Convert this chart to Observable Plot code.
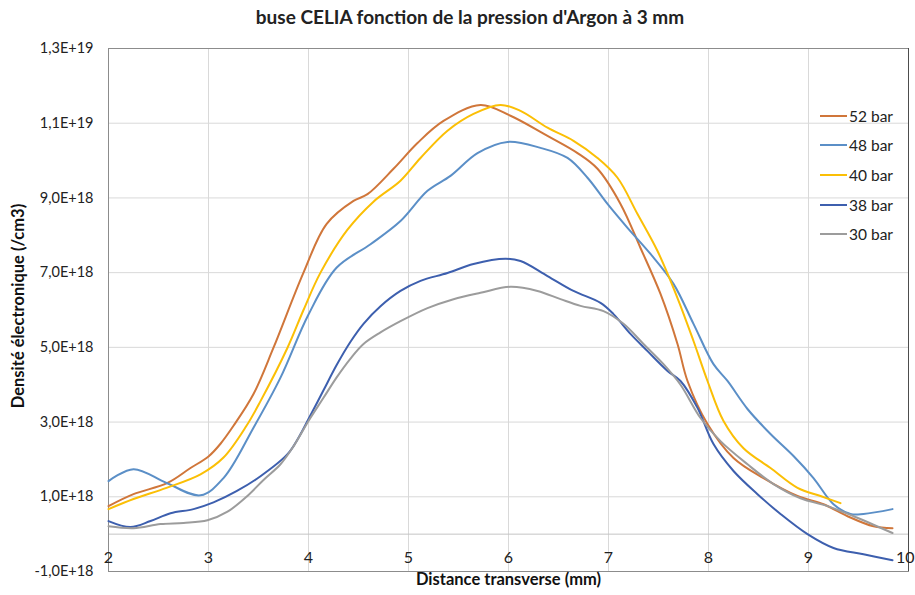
<!DOCTYPE html>
<html><head><meta charset="utf-8">
<script src="https://cdn.jsdelivr.net/npm/d3@7"></script>
<script src="https://cdn.jsdelivr.net/npm/@observablehq/plot@0.6"></script>
<style>
body{margin:0;background:#fff;font-family:Lato,"Open Sans",sans-serif;}
#wrap{position:relative;width:915px;height:595px;overflow:hidden;}
#title{position:absolute;left:0;top:5px;width:940px;text-align:center;font-weight:bold;font-size:19px;color:#222;}
#legend{position:absolute;left:820px;top:101px;}
.item{display:flex;align-items:center;height:29.6px;font-size:15.5px;color:#222;}
.item svg{margin-right:2px;}
#chart{position:absolute;left:0;top:0;}
</style></head>
<body>
<div id="wrap">
  <div id="chart"></div>
  <div id="title"></div>
  <div id="legend"></div>
</div>
<script>
const titleText = "buse CELIA fonction de la pression d'Argon à 3 mm";
const yLabel = "Densité électronique (/cm3)";
const xLabel = "Distance transverse (mm)";

const seriesNames = ["52 bar", "48 bar", "40 bar", "38 bar", "30 bar"];
const seriesColors = ["#d0763a", "#5b8fc7", "#fbbf05", "#3d5fae", "#9c9c9c"];

const xTicks = [2, 3, 4, 5, 6, 7, 8, 9, 10];
const yTicks = [-1, 1, 3, 5, 7, 9, 11, 13]; // units of 1E18
const yTickLabels = ["-1,0E+18", "1,0E+18", "3,0E+18", "5,0E+18", "7,0E+18", "9,0E+18", "1,1E+19", "1,3E+19"];

// values in units of 1E18 /cm3
const x52 = [2, 2.25, 2.59, 2.82, 3.0, 3.12, 3.25, 3.45, 3.65, 3.95, 4.18, 4.45, 4.59, 4.85, 5.09, 5.35, 5.72, 6.02, 6.39, 6.69, 6.89, 7.12, 7.32, 7.52, 7.69, 7.79, 7.99, 8.25, 8.55, 8.89, 9.15, 9.39, 9.65, 9.84];
const y52 = [0.75, 1.07, 1.37, 1.77, 2.08, 2.42, 2.9, 3.75, 4.99, 7.0, 8.3, 8.92, 9.1, 9.78, 10.47, 11.06, 11.49, 11.2, 10.66, 10.2, 9.78, 8.84, 7.66, 6.43, 5.09, 4.1, 2.95, 2.04, 1.5, 1.02, 0.8, 0.48, 0.21, 0.16];

const x48 = [2, 2.25, 2.58, 2.92, 3.15, 3.45, 3.72, 4.0, 4.28, 4.62, 4.92, 5.19, 5.42, 5.69, 5.99, 6.32, 6.59, 6.79, 6.99, 7.19, 7.42, 7.65, 7.85, 8.05, 8.19, 8.39, 8.62, 8.85, 9.05, 9.25, 9.42, 9.55, 9.84];
const y48 = [1.42, 1.74, 1.37, 1.04, 1.5, 2.85, 4.19, 5.88, 7.13, 7.76, 8.38, 9.19, 9.59, 10.2, 10.5, 10.34, 10.07, 9.54, 8.84, 8.2, 7.5, 6.7, 5.63, 4.55, 4.1, 3.35, 2.68, 2.09, 1.5, 0.8, 0.54, 0.54, 0.67];

const x40 = [2, 2.25, 2.58, 2.92, 3.15, 3.38, 3.52, 3.79, 3.95, 4.12, 4.39, 4.65, 4.92, 5.12, 5.39, 5.65, 5.92, 6.12, 6.39, 6.65, 6.89, 7.09, 7.29, 7.49, 7.69, 7.85, 7.99, 8.15, 8.35, 8.62, 8.89, 9.12, 9.32];
const y40 = [0.67, 0.94, 1.24, 1.6, 2.05, 2.9, 3.56, 4.99, 6.0, 7.0, 8.15, 8.9, 9.46, 10.07, 10.8, 11.25, 11.49, 11.33, 10.88, 10.53, 10.07, 9.54, 8.57, 7.58, 6.32, 5.17, 4.1, 3.03, 2.3, 1.77, 1.24, 1.02, 0.83];

const x38 = [2, 2.22, 2.42, 2.62, 2.85, 3.05, 3.28, 3.52, 3.79, 3.9, 4.0, 4.15, 4.28, 4.42, 4.55, 4.72, 4.92, 5.12, 5.39, 5.65, 5.97, 6.12, 6.39, 6.65, 6.92, 7.05, 7.22, 7.39, 7.59, 7.72, 7.89, 8.05, 8.25, 8.49, 8.72, 8.99, 9.25, 9.55, 9.84];
const y38 = [0.35, 0.19, 0.35, 0.56, 0.67, 0.85, 1.15, 1.55, 2.14, 2.58, 3.08, 3.85, 4.52, 5.15, 5.63, 6.1, 6.51, 6.78, 6.99, 7.23, 7.37, 7.31, 6.91, 6.51, 6.19, 5.89, 5.36, 4.9, 4.37, 4.1, 3.38, 2.41, 1.69, 1.07, 0.54, 0.0, -0.37, -0.54, -0.70];

const x30 = [2, 2.25, 2.52, 2.75, 2.99, 3.19, 3.38, 3.55, 3.72, 3.85, 4.0, 4.15, 4.28, 4.42, 4.55, 4.72, 4.92, 5.19, 5.45, 5.72, 6.02, 6.29, 6.52, 6.72, 6.95, 7.15, 7.35, 7.55, 7.72, 7.92, 8.12, 8.39, 8.65, 8.92, 9.19, 9.45, 9.84];
const y30 = [0.21, 0.16, 0.27, 0.3, 0.37, 0.6, 1.0, 1.45, 1.87, 2.35, 3.03, 3.65, 4.19, 4.7, 5.09, 5.4, 5.7, 6.05, 6.29, 6.46, 6.62, 6.51, 6.29, 6.11, 5.97, 5.63, 5.09, 4.55, 4.0, 3.11, 2.49, 1.87, 1.34, 0.96, 0.75, 0.48, 0.03];

const xs = [x52, x48, x40, x38, x30];
const ys = [y52, y48, y40, y38, y30];
const rows = [];
seriesNames.forEach((name, s) => xs[s].forEach((x, i) => rows.push({series: name, x, y: ys[s][i]})));

const chart = Plot.plot({
  width: 915, height: 595,
  marginLeft: 108, marginRight: 7, marginTop: 48, marginBottom: 24,
  style: {fontFamily: "Lato, 'Open Sans', sans-serif", background: "white", color: "#222"},
  x: {domain: [2, 10], axis: null},
  y: {domain: [-1, 13], axis: null},
  color: {domain: seriesNames, range: seriesColors},
  marks: [
    Plot.gridX(xTicks, {stroke: "#d9d9d9", strokeOpacity: 1}),
    Plot.gridY(yTicks, {stroke: "#d9d9d9", strokeOpacity: 1}),
    Plot.ruleY([0], {stroke: "#c4c4c4"}),
    Plot.frame({stroke: "#8c8c8c"}),
    Plot.ruleX([10], {stroke: "#4d4d4d"}),
    Plot.line(rows, {x: "x", y: "y", z: "series", stroke: "series", curve: "catmull-rom", strokeWidth: 2}),
    Plot.axisY(yTicks, {tickSize: 0, tickPadding: 15, fontSize: 14.5, label: null,
      tickFormat: d => yTickLabels[yTicks.indexOf(d)]}),
    Plot.text(xTicks.slice(0, -1), {x: d => d, y: () => 0, dy: 24, fontSize: 16, text: d => String(d), fill: "#222"}),
    Plot.text(xTicks.slice(-1), {x: d => d, y: () => 0, dy: 24, dx: 6, textAnchor: "end", fontSize: 16, text: d => String(d), fill: "#222"}),
    Plot.text([yLabel], {frameAnchor: "left", textAnchor: "middle", rotate: -90, dx: -90, dy: -4, fontSize: 16.5, fontWeight: "bold", fill: "#111"}),
    Plot.text([xLabel], {frameAnchor: "bottom", textAnchor: "middle", dy: 13, fontSize: 16.5, fontWeight: "bold", fill: "#111"})
  ]
});
document.getElementById("chart").appendChild(chart);
document.getElementById("title").textContent = titleText;

const legend = document.getElementById("legend");
seriesNames.forEach((name, i) => {
  const item = document.createElement("div");
  item.className = "item";
  item.innerHTML = `<svg width="27" height="4"><line x1="0" x2="27" y1="2" y2="2" stroke="${seriesColors[i]}" stroke-width="2"/></svg><span>${name}</span>`;
  legend.appendChild(item);
});
</script>
</body></html>
